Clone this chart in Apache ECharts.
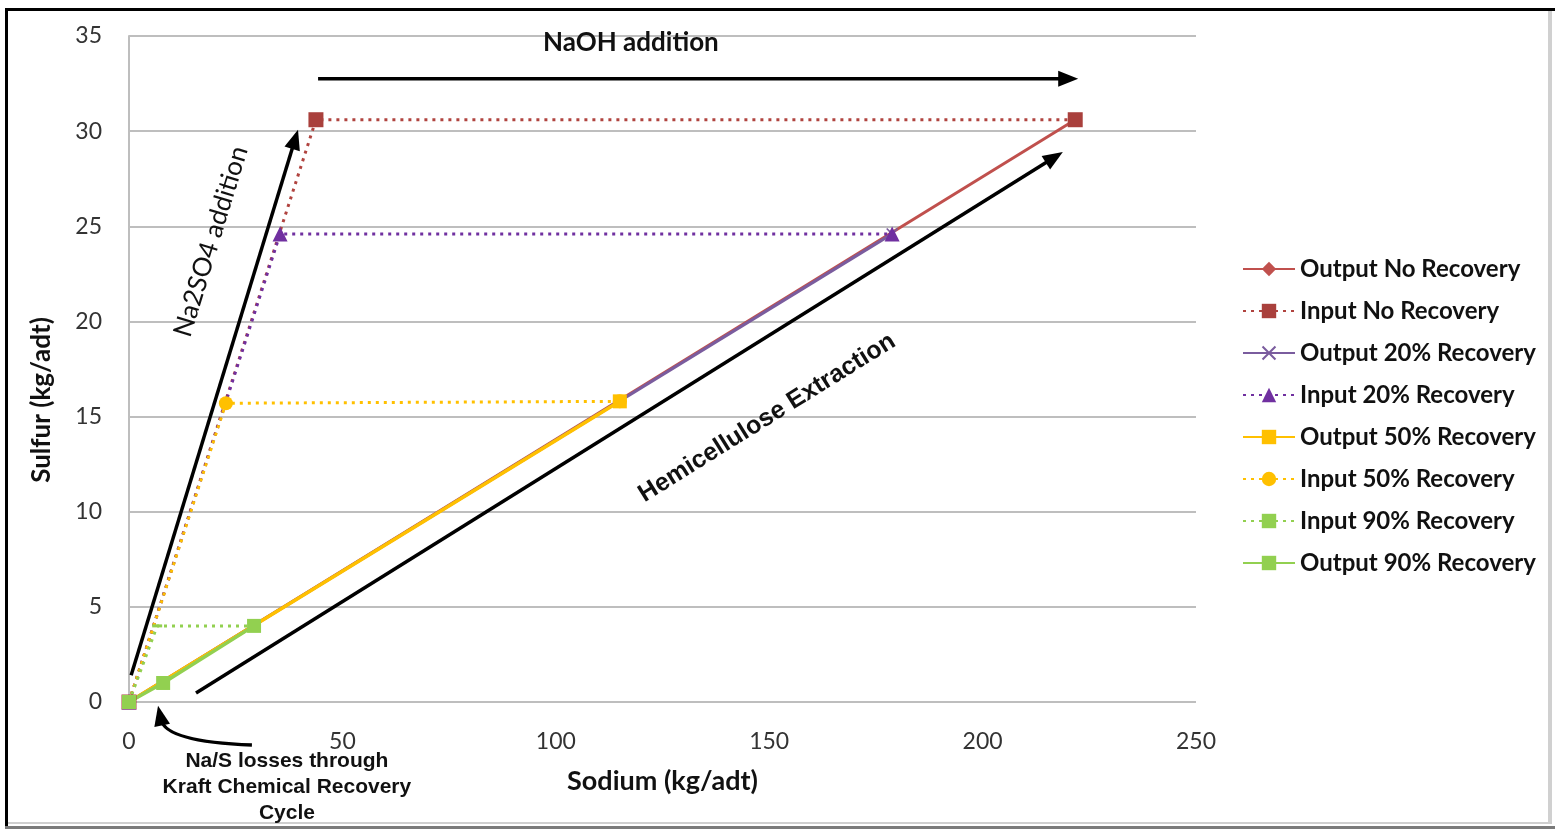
<!DOCTYPE html>
<html>
<head>
<meta charset="utf-8">
<script src="https://cdn.jsdelivr.net/npm/echarts@6/dist/echarts.min.js"></script>
<style>
  html, body { margin: 0; padding: 0; background: #fff; }
  #chart { width: 1555px; height: 829px; }
</style>
</head>
<body>
<div id="chart"></div>
<script>
// values: [sodium, sulfur] in kg/adt
const outNoRecovery = [[0, 0], [221.7, 30.6]]
const inNoRecovery = [[0, 0], [43.8, 30.6], [221.7, 30.6]]
const out20Recovery = [[0, 0], [178.8, 24.6]]
const in20Recovery = [[0, 0], [35.4, 24.6], [178.8, 24.6]]
const out50Recovery = [[0, 0], [115.0, 15.8]]
const in50Recovery = [[0, 0], [22.7, 15.7], [115.0, 15.8]]
const in90Recovery = [[0, 0], [6.6, 4.0], [29.3, 4.0]]
const out90Recovery = [[0, 0], [8.0, 1.0], [29.3, 4.0]]

const seriesNames = [
  'Output No Recovery', 'Input No Recovery', 'Output 20% Recovery', 'Input 20% Recovery',
  'Output 50% Recovery', 'Input 50% Recovery', 'Input 90% Recovery', 'Output 90% Recovery',
]

// annotation anchors in data units
const notes = {
  naoh: { from: [44.3, 32.75], to: [222.4, 32.75], label: 'NaOH addition', at: [117.6, 34.65] },
  na2so4: { from: [0.5, 1.4], to: [39.6, 30.07], label: 'Na2SO4 addition', at: [19.2, 24.2] },
  hemi: { from: [15.7, 0.47], to: [218.8, 28.9], label: 'Hemicellulose Extraction', at: [149.5, 14.93] },
  losses: { from: [28.8, -2.26], ctrl: [8.6, -2.1], to: [6.8, -0.2],
    label: 'Na/S losses through\nKraft Chemical Recovery\nCycle', at: [37.0, -4.48] },
}

const X_MARK = 'path://M0,1L1,0L5,4L9,0L10,1L6,5L10,9L9,10L5,6L1,10L0,9L4,5Z'
const DASH_MARK = 'path://M0,0L10,0L10,3L0,3Z'

function mk(name, data, color, width, dotted, symbol, symbolSize, markColor) {
  return {
    name,
    type: 'line',
    data,
    symbol,
    symbolSize,
    showSymbol: true,
    clip: false,
    lineStyle: { color, width, type: dotted ? [3, 5] : 'solid' },
    itemStyle: { color: markColor || color },
  }
}

const series = [
  mk(seriesNames[0], outNoRecovery, '#C0504D', 3, false, 'diamond', 12),
  mk(seriesNames[1], inNoRecovery, '#B0433F', 3, true, 'rect', 15, '#A9403C'),
  mk(seriesNames[2], out20Recovery, '#7A5C9E', 3, false, X_MARK, 12),
  mk(seriesNames[3], in20Recovery, '#7030A0', 3, true, 'triangle', 15),
  mk(seriesNames[4], out50Recovery, '#FFC000', 3.5, false, 'rect', 14),
  mk(seriesNames[5], in50Recovery, '#FFC000', 3, true, 'circle', 14),
  mk(seriesNames[6], in90Recovery, '#92D050', 3, true, DASH_MARK, [10, 3]),
  mk(seriesNames[7], out90Recovery, '#92D050', 3.5, false, 'rect', 14),
]

const chart = echarts.init(document.getElementById('chart'))

chart.setOption({
  animation: false,
  backgroundColor: '#fff',
  grid: { left: 129, right: 359, top: 36, bottom: 127 },
  xAxis: {
    type: 'value',
    min: 0, max: 250, interval: 50,
    name: 'Sodium (kg/adt)',
    nameLocation: 'middle',
    nameGap: 66,
    nameTextStyle: { fontFamily: 'Lato', fontWeight: 'bold', fontSize: 27, color: '#111' },
    axisLine: { show: false },
    axisTick: { show: false },
    splitLine: { show: false },
    axisLabel: { fontFamily: 'Lato', fontSize: 23, color: '#333', margin: 28 },
  },
  yAxis: {
    type: 'value',
    min: 0, max: 35, interval: 5,
    name: 'Sulfur (kg/adt)',
    nameLocation: 'middle',
    nameGap: 74,
    nameTextStyle: { fontFamily: 'Lato', fontWeight: 'bold', fontSize: 26, color: '#111', padding: [0, 62, 0, 0] },
    axisLine: { show: true, lineStyle: { color: '#BEBEBE', width: 2 } },
    axisTick: { show: false },
    splitLine: { lineStyle: { color: '#BEBEBE', width: 2 } },
    axisLabel: { fontFamily: 'Lato', fontSize: 23, color: '#333', margin: 27 },
  },
  legend: {
    data: seriesNames,
    orient: 'vertical',
    left: 1242,
    top: 257,
    padding: 0,
    itemWidth: 52,
    itemHeight: 18,
    itemGap: 18,
    textStyle: { fontFamily: 'Lato', fontWeight: 'bold', fontSize: 24, lineHeight: 22, color: '#111' },
  },
  series,
})

// annotations: arrows and notes, placed through the chart's own scales
function px(p) { return chart.convertToPixel({ xAxisIndex: 0, yAxisIndex: 0 }, p) }

function arrowHead(tip, dir) {
  const len = 20, half = 8
  const n = Math.hypot(dir[0], dir[1])
  const ux = dir[0] / n, uy = dir[1] / n
  const bx = tip[0] - ux * len, by = tip[1] - uy * len
  return {
    type: 'polygon',
    shape: { points: [tip, [bx - uy * half, by + ux * half], [bx + uy * half, by - ux * half]] },
    style: { fill: '#000' },
    z: 100,
  }
}

function straightArrow(n) {
  const a = px(n.from), b = px(n.to)
  const d = [b[0] - a[0], b[1] - a[1]]
  const L = Math.hypot(d[0], d[1])
  const end = [b[0] - d[0] / L * 16, b[1] - d[1] / L * 16]
  return [
    { type: 'line', shape: { x1: a[0], y1: a[1], x2: end[0], y2: end[1] }, style: { stroke: '#000', lineWidth: 3.5 }, z: 100 },
    arrowHead(b, d),
  ]
}

function note(n, font, rotate) {
  const c = px(n.at)
  let rotation = 0
  if (rotate) {
    const a = px(n.from), b = px(n.to)
    rotation = Math.atan2(a[1] - b[1], b[0] - a[0])
  }
  return {
    type: 'text', x: c[0], y: c[1], rotation, z: 100,
    style: { text: n.label, font, fill: '#111', align: 'center', verticalAlign: 'middle', lineHeight: 26 },
  }
}

const ls = notes.losses
const ls0 = px(ls.from), lsc = px(ls.ctrl), ls1 = px(ls.to)
const lsDir = [ls1[0] - lsc[0], ls1[1] - lsc[1]]
const lsN = Math.hypot(lsDir[0], lsDir[1])
const lsEnd = [ls1[0] - lsDir[0] / lsN * 14, ls1[1] - lsDir[1] / lsN * 14]

const graphics = [
  ...straightArrow(notes.naoh),
  ...straightArrow(notes.na2so4),
  ...straightArrow(notes.hemi),
  {
    type: 'bezierCurve',
    shape: { x1: ls0[0], y1: ls0[1], x2: lsEnd[0], y2: lsEnd[1], cpx1: lsc[0], cpy1: lsc[1] },
    style: { stroke: '#000', lineWidth: 3.5, fill: null },
    z: 100,
  },
  arrowHead(ls1, lsDir),
  note(notes.naoh, 'bold 26px Lato', false),
  note(notes.na2so4, '26px Lato', true),
  note(notes.hemi, 'bold 25px "Liberation Sans"', true),
  note(notes.losses, 'bold 21px "Liberation Sans"', false),
  // page frame around the figure
  { type: 'rect', shape: { x: 5, y: 8, width: 1550, height: 3 }, style: { fill: '#000' } },
  { type: 'rect', shape: { x: 5, y: 8, width: 3, height: 821 }, style: { fill: '#000' } },
  { type: 'rect', shape: { x: 1548, y: 11, width: 4, height: 813 }, style: { fill: '#D0D0D0' } },
  { type: 'rect', shape: { x: 8, y: 822, width: 1544, height: 2 }, style: { fill: '#CFCFCF' } },
  { type: 'rect', shape: { x: 5, y: 826, width: 1550, height: 3 }, style: { fill: '#7A7A7A' } },
]

chart.setOption({ graphic: graphics })
</script>
</body>
</html>
